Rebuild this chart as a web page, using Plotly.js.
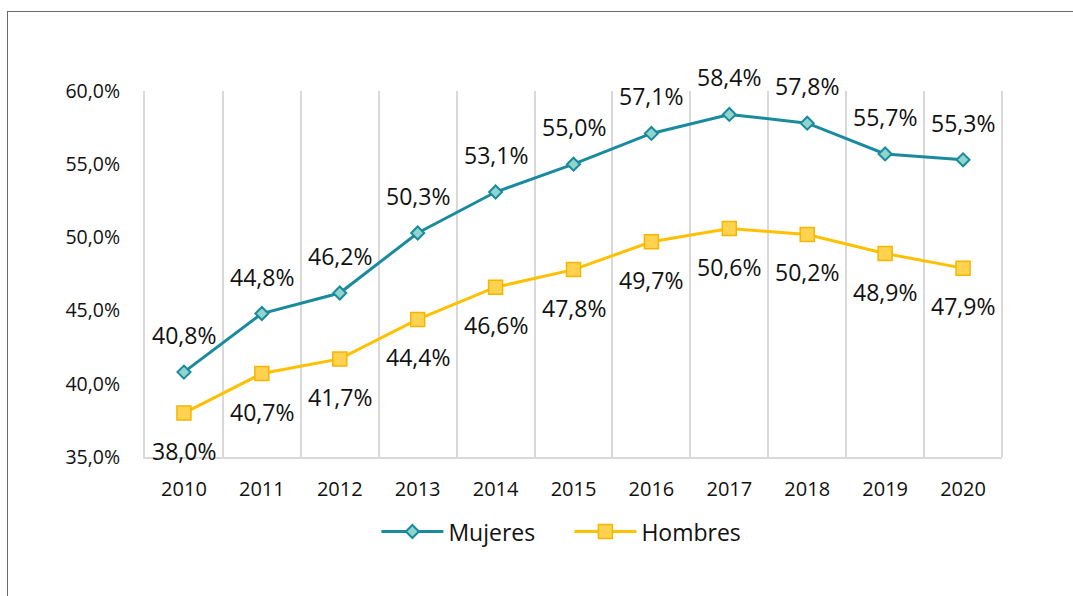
<!DOCTYPE html>
<html>
<head>
<meta charset="utf-8">
<script src="https://cdn.plot.ly/plotly-3.0.1.min.js"></script>
<style>
html,body{margin:0;padding:0;background:#fff;}
#wrap{position:relative;width:1073px;height:596px;overflow:hidden;}
#chart{position:absolute;left:0;top:0;width:1073px;height:596px;}
#frame{position:absolute;left:7px;top:11px;width:1080px;height:600px;border-left:1.5px solid #6b6b6b;border-top:1.5px solid #6b6b6b;pointer-events:none;}
</style>
</head>
<body>
<div id="wrap"><div id="chart"></div><div id="frame"></div></div>
<script>
const years = ['2010','2011','2012','2013','2014','2015','2016','2017','2018','2019','2020'];
const mujeres = [40.8, 44.8, 46.2, 50.3, 53.1, 55.0, 57.1, 58.4, 57.8, 55.7, 55.3];
const hombres = [38.0, 40.7, 41.7, 44.4, 46.6, 47.8, 49.7, 50.6, 50.2, 48.9, 47.9];
const yTicks = [35, 40, 45, 50, 55, 60];

const FONT = 'Open Sans, Lato, sans-serif';
const TXT = '#111111';
const fmt = v => v.toFixed(1).replace('.', ',') + '%';

const traces = [
  {
    x: years, y: mujeres, name: 'Mujeres', type: 'scatter', mode: 'lines+markers',
    line: {color: '#1a8b9d', width: 3},
    marker: {symbol: 'diamond', size: 10, color: '#8fd4cd', line: {color: '#1a8b9d', width: 2}},
    hoverinfo: 'skip'
  },
  {
    x: years, y: hombres, name: 'Hombres', type: 'scatter', mode: 'lines+markers',
    line: {color: '#ffc000', width: 3},
    marker: {symbol: 'square', size: 14, color: '#ffd24f', line: {color: '#f7b500', width: 1.5}},
    hoverinfo: 'skip'
  }
];

const annotations = [];
years.forEach((yr, i) => {
  annotations.push({x: i, y: mujeres[i], text: fmt(mujeres[i]), showarrow: false, yshift: 37,
    font: {family: FONT, size: 23, color: TXT}});
  annotations.push({x: i, y: hombres[i], text: fmt(hombres[i]), showarrow: false, yshift: -38,
    font: {family: FONT, size: 23, color: TXT}});
});

const layout = {
  width: 1073, height: 596,
  margin: {l: 145, r: 71, t: 91, b: 139},
  paper_bgcolor: '#fff', plot_bgcolor: '#fff',
  separators: ',.',
  font: {family: FONT, color: TXT},
  showlegend: true,
  legend: {
    orientation: 'h', x: 0.27, xanchor: 'left', y: -0.145, yanchor: 'top',
    font: {family: FONT, size: 23, color: TXT},
    itemwidth: 62, entrywidth: 116, entrywidthmode: 'pixels', bgcolor: 'rgba(0,0,0,0)'
  },
  xaxis: {
    type: 'category', range: [-0.5, 10.5], autorange: false, tickson: 'boundaries',
    showgrid: true, gridcolor: '#d9d9d9', gridwidth: 2, tickangle: 0,
    showline: true, linecolor: '#d9d9d9', linewidth: 2, ticks: '', zeroline: false,
    tickfont: {family: FONT, size: 20, color: TXT}, ticklabelstandoff: 13,
    fixedrange: true
  },
  yaxis: {
    range: [35, 60], autorange: false, tickmode: 'array', tickvals: yTicks, ticktext: yTicks.map(fmt),
    showgrid: false, zeroline: false, showline: true, linecolor: '#d9d9d9', linewidth: 2, ticks: '',
    tickfont: {family: FONT, size: 19.5, color: TXT}, ticklabelstandoff: 19,
    fixedrange: true
  },
  shapes: [
    {type: 'line', xref: 'paper', yref: 'paper', x0: 1, x1: 1, y0: 0, y1: 1,
     line: {color: '#d9d9d9', width: 2}}
  ],
  annotations: annotations
};

Plotly.newPlot('chart', traces, layout, {displayModeBar: false, staticPlot: true});
</script>
</body>
</html>
